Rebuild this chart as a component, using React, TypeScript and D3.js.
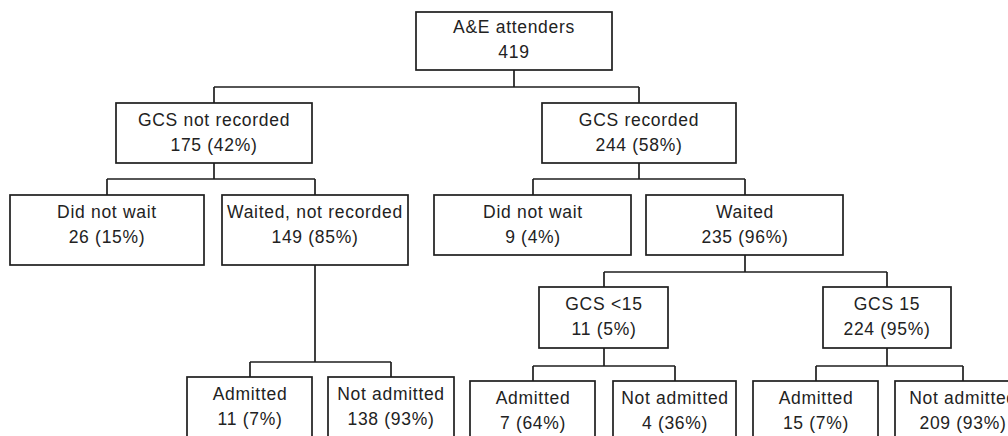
import { useEffect, useRef } from 'react';
import * as d3 from 'd3';

// flowchart data
const nodeIds = ['root', 'notRec', 'rec', 'dnw1', 'waitedNR', 'dnw2', 'waited', 'adm1', 'nadm1', 'lt15', 'eq15', 'adm2', 'nadm2', 'adm3', 'nadm3'];
const nodeParents = ['', 'root', 'root', 'notRec', 'notRec', 'rec', 'rec', 'waitedNR', 'waitedNR', 'waited', 'waited', 'lt15', 'lt15', 'eq15', 'eq15'];
const nodeLabels = ['A&E attenders', 'GCS not recorded', 'GCS recorded', 'Did not wait', 'Waited, not recorded', 'Did not wait', 'Waited', 'Admitted', 'Not admitted', 'GCS <15', 'GCS 15', 'Admitted', 'Not admitted', 'Admitted', 'Not admitted'];
const nodeCounts = [419, 175, 244, 26, 149, 9, 235, 11, 138, 11, 224, 7, 4, 15, 209];
const nodePercents = [null, 42, 58, 15, 85, 4, 96, 7, 93, 5, 95, 64, 36, 7, 93];

// diagram geometry (box edges and connector bus heights)
const boxLayout: Record<string, [number, number, number, number]> = {
  root: [416, 612, 12, 70],
  notRec: [116, 312, 103, 163],
  rec: [542, 736, 103, 163],
  dnw1: [10, 204, 195, 265],
  waitedNR: [222, 408, 195, 265],
  dnw2: [434, 631, 195, 255],
  waited: [646, 843, 195, 255],
  adm1: [187, 312, 377, 460],
  nadm1: [328, 454, 377, 460],
  lt15: [539, 668, 287, 348],
  eq15: [823, 951, 287, 348],
  adm2: [470, 595, 381, 460],
  nadm2: [613, 736, 381, 460],
  adm3: [753, 878, 381, 460],
  nadm3: [895, 1030, 381, 460],
};
const busY: Record<string, number> = {
  root: 87, notRec: 179, rec: 179, waitedNR: 362, waited: 272, lt15: 366, eq15: 366,
};

type Node = { id: string; parent: string; label: string; count: number; pct: number | null };

export default function App() {
  const svgRef = useRef<SVGSVGElement>(null);

  useEffect(() => {
    if (!svgRef.current) return;
    const svg = d3.select(svgRef.current);
    svg.selectAll('*').remove();

    const table: Node[] = nodeIds.map((id, i) => ({
      id, parent: nodeParents[i], label: nodeLabels[i], count: nodeCounts[i], pct: nodePercents[i],
    }));
    const root = d3.stratify<Node>().id(d => d.id).parentId(d => d.parent || null)(table);

    const cx = (id: string) => Math.round((boxLayout[id][0] + boxLayout[id][1]) / 2);
    const line = d3.line<[number, number]>();
    const stroke = '#1e1e1e';

    const links = svg.append('g').attr('fill', 'none').attr('stroke', stroke).attr('stroke-width', 1.7);
    root.descendants().filter(n => n.children).forEach(n => {
      const [, , , y1] = boxLayout[n.id!];
      const by = busY[n.id!];
      const kids = n.children!.map(c => cx(c.id!));
      links.append('path').attr('d', line([[cx(n.id!), y1], [cx(n.id!), by]]));
      links.append('path').attr('d', line([[d3.min(kids)!, by], [d3.max(kids)!, by]]));
      n.children!.forEach(c => {
        links.append('path').attr('d', line([[cx(c.id!), by], [cx(c.id!), boxLayout[c.id!][2]]]));
      });
    });

    const boxes = svg.append('g')
      .selectAll('g')
      .data(root.descendants())
      .join('g');

    boxes.append('rect')
      .attr('x', d => boxLayout[d.id!][0])
      .attr('y', d => boxLayout[d.id!][2])
      .attr('width', d => boxLayout[d.id!][1] - boxLayout[d.id!][0])
      .attr('height', d => boxLayout[d.id!][3] - boxLayout[d.id!][2])
      .attr('fill', '#fff')
      .attr('stroke', stroke)
      .attr('stroke-width', 1.7);

    const txt = boxes.append('text')
      .attr('text-anchor', 'middle')
      .attr('font-family', 'Arial, "Liberation Sans", sans-serif')
      .attr('font-size', 17.5)
      .attr('letter-spacing', 0.7)
      .attr('fill', '#222');

    txt.append('tspan')
      .attr('x', d => cx(d.id!))
      .attr('y', d => boxLayout[d.id!][2] + (d.depth === 0 ? 21 : 23))
      .text(d => d.data.label);
    txt.append('tspan')
      .attr('x', d => cx(d.id!))
      .attr('y', d => boxLayout[d.id!][2] + (d.depth === 0 ? 46 : 48))
      .text(d => d.data.pct == null ? `${d.data.count}` : `${d.data.count} (${d.data.pct}%)`);
  }, []);

  return (
    <svg
      ref={svgRef}
      width={1008}
      height={436}
      style={{ position: 'absolute', left: 0, top: 0, background: '#fff' }}
    />
  );
}
